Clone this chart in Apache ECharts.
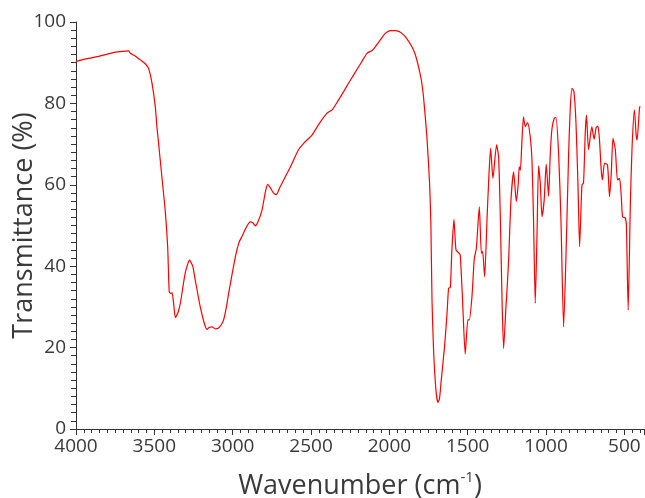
<!DOCTYPE html>
<html>
<head>
<meta charset="utf-8">
<script src="https://cdn.jsdelivr.net/npm/echarts@6/dist/echarts.min.js"></script>
<style>
  html, body { margin: 0; padding: 0; background: #fff; }
  #irChart { width: 645px; height: 498px; }
</style>
</head>
<body>
<div id="irChart"></div>
<script>
// wavenumbers (cm-1) and transmittance (%)
const wavenumbers = [
  4000, 3950, 3900, 3850, 3800, 3750, 3700, 3664, 3653, 3620, 3590, 3560, 3537, 3515, 3494, 3483,
  3473, 3451, 3430, 3415, 3405, 3395, 3387, 3376, 3366, 3350, 3334, 3303, 3275, 3255, 3239, 3207,
  3180, 3164, 3148, 3132, 3110, 3090, 3070, 3058, 3040, 3026, 2983, 2960, 2941, 2910, 2888, 2870,
  2856, 2840, 2813, 2790, 2777, 2760, 2740, 2722, 2700, 2664, 2632, 2580, 2547, 2494, 2450, 2398,
  2366, 2330, 2292, 2260, 2228, 2180, 2143, 2110, 2090, 2060, 2026, 1995, 1962, 1940, 1920, 1890,
  1856, 1835, 1814, 1795, 1782, 1761, 1743, 1735, 1728, 1718, 1703, 1690, 1686, 1680, 1669, 1648,
  1632, 1622, 1611, 1601, 1588, 1575, 1558, 1548, 1533, 1516, 1499, 1490, 1473, 1458, 1445, 1426,
  1413, 1405, 1392, 1377, 1367, 1354, 1339, 1316, 1303, 1292, 1281, 1271, 1256, 1250, 1239, 1224,
  1207, 1190, 1178, 1171, 1164, 1155, 1144, 1133, 1118, 1101, 1090, 1080, 1069, 1058, 1048, 1037,
  1026, 1012, 999, 984, 973, 962, 948, 937, 920, 905, 888, 873, 856, 846, 835, 822,
  809, 796, 786, 771, 761, 750, 742, 729, 708, 693, 680, 669, 659, 648, 640, 627,
  608, 595, 584, 573, 558, 544, 531, 520, 512, 494, 487, 476, 462, 451, 436, 425,
  419, 404, 400
];
const transmittance = [
  90.3, 90.8, 91.2, 91.6, 92.1, 92.6, 92.8, 92.9, 92.3, 91.6, 90.7, 89.8, 88.6, 85.0, 79.2, 74.0,
  70.2, 61.6, 53.4, 44.8, 33.7, 33.3, 33.5, 30.5, 27.4, 28.5, 30.9, 38.3, 41.5, 40.0, 36.6, 30.0,
  25.8, 24.5, 25.0, 25.1, 24.6, 24.8, 25.8, 26.8, 30.0, 33.3, 42.3, 45.8, 47.3, 49.8, 50.9, 50.6,
  49.9, 50.8, 53.8, 58.5, 60.1, 59.3, 58.0, 57.6, 59.3, 62.0, 64.4, 68.6, 70.2, 72.2, 74.9, 77.6,
  78.4, 80.5, 82.9, 85.0, 87.0, 90.0, 92.3, 93.0, 93.9, 95.5, 97.2, 97.9, 97.9, 97.7, 97.2, 96.0,
  93.9, 92.0, 89.0, 85.5, 81.5, 72.0, 60.0, 50.0, 31.7, 19.4, 9.6, 6.5, 6.5, 7.5, 12.0, 20.2,
  28.4, 34.6, 34.8, 44.0, 51.5, 44.0, 43.3, 42.8, 31.7, 18.4, 26.8, 26.8, 32.5, 41.9, 44.4, 54.6,
  43.2, 43.6, 37.4, 51.4, 60.4, 69.0, 61.6, 69.8, 66.9, 52.2, 31.7, 19.8, 30.0, 33.7, 41.5, 56.3,
  63.2, 55.9, 60.0, 64.4, 63.6, 70.0, 76.7, 74.3, 75.3, 71.8, 66.1, 51.4, 30.9, 47.3, 64.6, 60.4,
  52.2, 56.3, 65.1, 57.2, 67.7, 73.9, 76.3, 76.6, 67.7, 51.4, 25.1, 42.3, 67.7, 78.4, 83.7, 82.9,
  75.1, 59.5, 44.8, 60.0, 60.4, 72.7, 77.1, 68.6, 74.3, 71.2, 74.1, 74.4, 71.0, 63.6, 61.2, 65.3,
  64.9, 57.1, 62.8, 71.4, 68.6, 61.2, 61.6, 57.1, 52.2, 51.8, 49.7, 29.2, 55.5, 69.4, 78.4, 72.2,
  71.0, 78.8, 79.3
];
const yTicks = [0, 20, 40, 60, 80, 100];

const textColor = '#3a3a3a';
const fontFamily = '"Open Sans", "Noto Sans", sans-serif';

const chart = echarts.init(document.getElementById('irChart'), null, {renderer: 'canvas'});
chart.setOption({
  animation: false,
  grid: {left: 76, right: 1, top: 22, bottom: 69, containLabel: false, outerBoundsMode: 'none'},
  xAxis: {
    type: 'value',
    inverse: true,
    min: 375,
    max: 4000,
    splitNumber: 7,
    name: 'Wavenumber (cm{sup|-1})',
    nameLocation: 'middle',
    nameGap: 41,
    nameMoveOverlap: false,
    nameTextStyle: {
      color: textColor, fontSize: 27, fontFamily: fontFamily, lineHeight: 32,
      rich: {sup: {fontSize: 15, fontFamily: fontFamily, color: textColor, verticalAlign: 'top', lineHeight: 14, padding: [0, 0, 6, 0]}}
    },
    axisLine: {show: true, lineStyle: {color: '#333', width: 1}},
    axisTick: {show: true, length: 6, lineStyle: {color: '#333'}},
    minorTick: {show: true, splitNumber: 10, length: 4, lineStyle: {color: '#333'}},
    splitLine: {show: false},
    axisLabel: {
      color: textColor, fontSize: 19, fontFamily: fontFamily, margin: 8,
      formatter: v => (v % 500 === 0 ? String(v) : '')
    }
  },
  yAxis: {
    type: 'value',
    min: yTicks[0],
    max: yTicks[yTicks.length - 1],
    interval: 20,
    name: 'Transmittance (%)',
    nameLocation: 'middle',
    nameGap: 38,
    nameMoveOverlap: false,
    nameTextStyle: {color: textColor, fontSize: 27, fontFamily: fontFamily},
    axisLine: {show: true, lineStyle: {color: '#333', width: 1}},
    axisTick: {show: true, length: 6, lineStyle: {color: '#333'}},
    minorTick: {show: true, splitNumber: 10, length: 5, lineStyle: {color: '#333'}},
    splitLine: {show: false},
    axisLabel: {color: textColor, fontSize: 19, fontFamily: fontFamily, margin: 10}
  },
  series: [{
    type: 'line',
    data: wavenumbers.map((w, i) => [w, transmittance[i]]),
    showSymbol: false,
    smooth: 0.2,
    lineStyle: {color: '#ff0000', width: 1.2},
    clip: true
  }]
});
</script>
</body>
</html>
